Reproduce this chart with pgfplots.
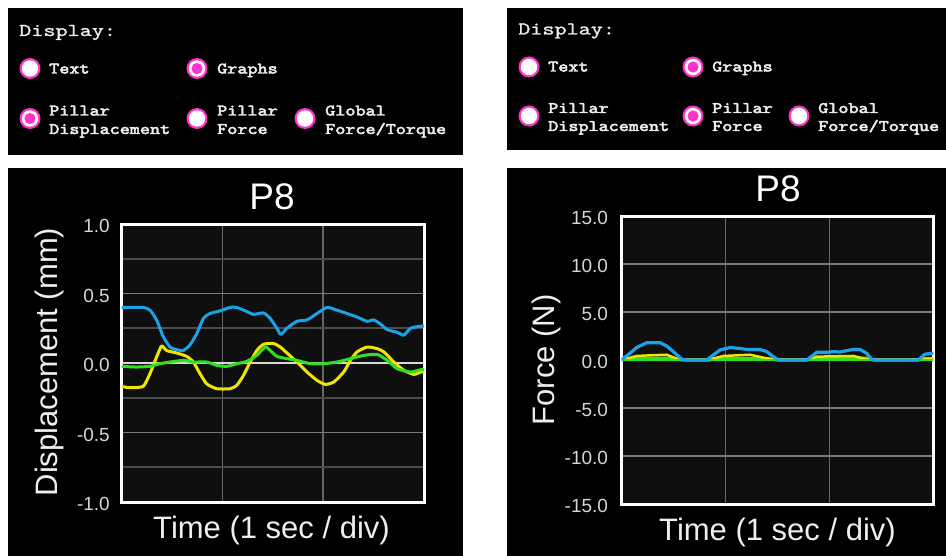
\documentclass[border=0pt]{standalone}
\usepackage{fontspec}
\setmainfont{Liberation Sans}
\newfontfamily\courR{lmmono10-regular.otf}[FakeBold=1.2]
\newfontfamily\courB{lmmono10-regular.otf}[FakeBold=3]
\usepackage{pgfplots}
\pgfplotsset{compat=1.18}
\definecolor{mag}{HTML}{FF33CC}
\definecolor{plotbg}{HTML}{0F0F0F}
\definecolor{gridmaj}{HTML}{7C7C7C}
\definecolor{gridmin}{HTML}{4C4C4C}
\definecolor{gridv}{HTML}{666666}
\definecolor{zeroline}{HTML}{D8D8D8}
\definecolor{cblue}{HTML}{1AA3E6}
\definecolor{cyellow}{HTML}{F2E400}
\definecolor{cgreen}{HTML}{30E020}
\definecolor{txt}{HTML}{EEEEEE}
\definecolor{ticktxt}{HTML}{D6D6D6}
\newcommand{\radio}[2]{\fill[mag] (#1pt,-#2pt) circle[radius=10.5pt]; \fill[white] (#1pt,-#2pt) circle[radius=8.2pt];}
\newcommand{\radioon}[2]{\radio{#1}{#2}\fill[mag] (#1pt,-#2pt) circle[radius=5.6pt];}
\newcommand{\dlab}[3]{\node[anchor=base west, inner sep=0pt, text=txt, font=\courR\fontsize{18}{18}\selectfont, xscale=1.28] at (#1pt,-#2pt) {#3};}
\newcommand{\olab}[3]{\node[anchor=base west, inner sep=0pt, text=txt, font=\courB\fontsize{16}{16}\selectfont, xscale=1.2] at (#1pt,-#2pt) {#3};}
\pgfplotsset{
  scopestyle/.style={
    scale only axis,
    axis background/.style={fill=plotbg},
    axis line style={draw=white, line width=3pt},
    tick style={draw=none},
    xmin=0, xmax=3, xtick={1,2}, xticklabels={},
    yticklabel style={font=\fontsize{19}{19}\selectfont, text=ticktxt, anchor=east, inner sep=0pt, yshift=-2pt},
    x grid style={gridv, line width=1.6pt},
    grid=both,
    clip=true,
  }
}
\begin{document}
\begin{tikzpicture}
\fill[white] (0pt,0pt) rectangle (946pt,-556pt);
% panels
\fill[black] (8pt,-8pt) rectangle (463pt,-155pt);
\fill[black] (507pt,-8pt) rectangle (946pt,-150pt);
\fill[black] (8pt,-168pt) rectangle (463pt,-556pt);
\fill[black] (507pt,-168pt) rectangle (946pt,-556pt);
% left display panel
\dlab{19}{36}{Display:}
\radio{30}{68.5}\olab{49}{73.5}{Text}
\radioon{197}{68.5}\olab{217}{73.5}{Graphs}
\radioon{30}{118.5}\olab{49}{115.5}{Pillar}\olab{49}{134}{Displacement}
\radio{197}{118.5}\olab{217}{115.5}{Pillar}\olab{217}{134}{Force}
\radio{305}{118.5}\olab{325}{115.5}{Global}\olab{325}{134}{Force/Torque}
% right display panel
\dlab{518}{34.5}{Display:}
\radio{529}{67}\olab{548}{71.5}{Text}
\radioon{693}{67}\olab{712}{71.5}{Graphs}
\radio{529}{116}\olab{548}{113}{Pillar}\olab{548}{131}{Displacement}
\radioon{693}{116}\olab{712}{113}{Pillar}\olab{712}{131}{Force}
\radio{799}{116}\olab{818}{113}{Global}\olab{818}{131}{Force/Torque}

% left chart
\begin{axis}[scopestyle, at={(121.5pt,-502pt)}, anchor=south west,
  width=302.5pt, height=278pt,
  ymin=-1, ymax=1,
  ytick={-1,-0.5,0,0.5,1}, yticklabels={-1.0,-0.5,0.0,0.5,1.0},
  minor ytick={-0.75,-0.25,0.25,0.75},
  yticklabel style={xshift=-11.5pt},
  y grid style={gridmaj, line width=1.6pt},
  minor y grid style={gridmin, line width=1.6pt},
]
\draw[zeroline, line width=2pt] (axis cs:0,0) -- (axis cs:3,0);
\addplot[cblue, line width=3pt, line join=round, smooth, tension=0.35] coordinates {
(0.000,0.40)(0.215,0.40)(0.282,0.38)(0.348,0.31)(0.414,0.19)(0.481,0.115)(0.547,0.096)(0.613,0.09)(0.679,0.13)(0.746,0.21)(0.812,0.32)(0.878,0.356)(0.978,0.375)(1.077,0.40)(1.144,0.40)(1.243,0.37)(1.309,0.35)(1.409,0.36)(1.475,0.32)(1.541,0.25)(1.581,0.205)(1.641,0.25)(1.740,0.30)(1.840,0.31)(1.939,0.356)(2.038,0.40)(2.138,0.38)(2.237,0.356)(2.337,0.33)(2.436,0.30)(2.502,0.31)(2.569,0.28)(2.635,0.24)(2.735,0.22)(2.801,0.20)(2.867,0.25)(2.967,0.265)(3.0,0.265)
};
\addplot[cyellow, line width=3pt, line join=round, smooth, tension=0.35] coordinates {
(0.000,-0.168)(0.083,-0.178)(0.215,-0.168)(0.282,-0.077)(0.348,0.043)(0.398,0.123)(0.447,0.09)(0.547,0.072)(0.646,0.048)(0.713,0.007)(0.779,-0.077)(0.845,-0.15)(0.945,-0.185)(1.077,-0.185)(1.144,-0.16)(1.210,-0.089)(1.276,0.007)(1.342,0.09)(1.409,0.135)(1.508,0.14)(1.574,0.115)(1.641,0.072)(1.740,0.007)(1.840,-0.065)(1.939,-0.125)(2.022,-0.154)(2.105,-0.137)(2.204,-0.065)(2.270,0.019)(2.337,0.08)(2.436,0.115)(2.536,0.103)(2.602,0.08)(2.701,0.007)(2.801,-0.053)(2.900,-0.082)(2.967,-0.065)(3.0,-0.065)
};
\addplot[cgreen, line width=3pt, line join=round, smooth, tension=0.35] coordinates {
(0.000,-0.024)(0.149,-0.029)(0.282,-0.024)(0.381,-0.005)(0.481,0.007)(0.613,0.019)(0.713,0.007)(0.845,0.007)(0.945,-0.017)(1.044,-0.024)(1.144,-0.005)(1.243,0.012)(1.342,0.055)(1.425,0.115)(1.475,0.09)(1.541,0.048)(1.641,0.031)(1.740,0.019)(1.873,-0.005)(2.005,-0.005)(2.138,0.007)(2.270,0.031)(2.403,0.055)(2.536,0.062)(2.635,0.019)(2.735,-0.041)(2.867,-0.065)(2.967,-0.048)(3.0,-0.048)
};
\end{axis}

% right chart
\begin{axis}[scopestyle, at={(621.7pt,-504pt)}, anchor=south west,
  width=311.6pt, height=288pt,
  ymin=-15, ymax=15,
  ytick={-15,-10,-5,0,5,10,15}, yticklabels={-15.0,-10.0,-5.0,0.0,5.0,10.0,15.0},
  yticklabel style={xshift=-13.5pt},
  y grid style={gridmaj, line width=1.6pt},
]
\addplot[cgreen, line width=3pt, line join=round] coordinates {
(0,0)(0.112,0.2)(0.497,0.2)(0.577,0)(0.850,0)(0.914,0.17)(1.396,0.17)(1.492,0)(1.781,0)(1.845,0.2)(2.358,0.2)(2.422,0)(2.855,0)(2.903,0.14)(3.0,0.14)
};
\addplot[cyellow, line width=2.5pt, line join=round] coordinates {
(0,0)(0.144,0.42)(0.30,0.5)(0.433,0.55)(0.545,0.07)(0.85,0.07)(0.979,0.42)(1.235,0.55)(1.396,0.17)(1.45,0.07)(1.781,0.07)(1.877,0.35)(2.230,0.42)(2.358,0.07)(2.871,0.07)(3.0,0.17)
};
\addplot[cgreen, line width=2pt] coordinates {(0,0.05)(3,0.05)};
\addplot[cblue, line width=3.2pt, line join=round] coordinates {
(0.0,0.0)(0.016,0.17)(0.080,0.7)(0.144,1.3)(0.241,1.8)(0.369,1.8)(0.433,1.46)(0.497,0.87)(0.577,0.1)(0.626,0)(0.818,0)(0.882,0.52)(0.946,1.04)(1.043,1.3)(1.139,1.2)(1.203,1.1)(1.331,1.1)(1.396,0.87)(1.460,0.35)(1.508,0)(1.781,0)(1.845,0.52)(1.877,0.8)(1.973,0.8)(2.037,0.87)(2.101,0.83)(2.165,0.97)(2.230,1.1)(2.294,1.1)(2.358,0.7)(2.406,0.07)(2.438,0)(2.855,0)(2.919,0.6)(2.984,0.7)(3.0,0.7)
};
\end{axis}

% titles and labels
\node[text=white, font=\fontsize{37}{37}\selectfont] at (272pt,-197pt) {P8};
\node[text=white, font=\fontsize{37}{37}\selectfont] at (778pt,-188.5pt) {P8};
\node[text=txt, rotate=90, font=\fontsize{31}{31}\selectfont] at (49pt,-362pt) {Displacement (mm)};
\node[text=txt, rotate=90, font=\fontsize{31}{31}\selectfont] at (546pt,-360pt) {Force (N)};
\node[text=txt, font=\fontsize{31}{31}\selectfont] at (271.5pt,-530pt) {Time (1 sec / div)};
\node[text=txt, font=\fontsize{31}{31}\selectfont] at (777.5pt,-532pt) {Time (1 sec / div)};
\pgfresetboundingbox
\path[use as bounding box] (0pt,0pt) rectangle (946pt,-556pt);
\end{tikzpicture}
\end{document}
